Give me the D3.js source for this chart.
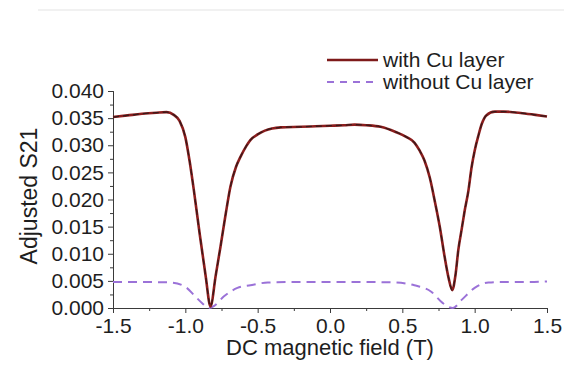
<!DOCTYPE html>
<html>
<head>
<meta charset="utf-8">
<script src="https://cdn.jsdelivr.net/npm/d3@7/dist/d3.min.js"></script>
<style>
  html, body { margin: 0; padding: 0; background: #fff; }
  svg { display: block; font-family: "Liberation Sans", Arial, sans-serif; }
</style>
</head>
<body>
<svg id="chart" width="564" height="367"></svg>
<script>
// Transmission S21 versus applied DC field
const fieldCu = [-1.5, -1.4, -1.3, -1.2, -1.13, -1.08, -1.04, -1.0, -0.97, -0.94, -0.9, -0.86, -0.826,
  -0.79, -0.757, -0.72, -0.688, -0.65, -0.618, -0.58, -0.549, -0.5, -0.45, -0.4, -0.34, -0.2, -0.1,
  0.0, 0.1, 0.17, 0.25, 0.35, 0.45, 0.53, 0.583, 0.62, 0.653, 0.69, 0.722, 0.76, 0.792, 0.82, 0.845,
  0.867, 0.887, 0.91, 0.93, 0.956, 0.979, 1.0, 1.026, 1.05, 1.08, 1.14, 1.2, 1.33, 1.42, 1.5];
const s21Cu = [0.0352, 0.0355, 0.0358, 0.0360, 0.0361, 0.0356, 0.0345, 0.0315, 0.0270, 0.0215, 0.0135, 0.0060, 0.0003,
  0.0060, 0.0113, 0.0175, 0.0224, 0.0260, 0.0279, 0.0298, 0.0310, 0.0320, 0.0327, 0.0331, 0.0333, 0.0334, 0.0335,
  0.0336, 0.0337, 0.0338, 0.0337, 0.0334, 0.0325, 0.0315, 0.0305, 0.0290, 0.0272, 0.0240, 0.0200, 0.0148, 0.0095, 0.0055, 0.0033,
  0.0060, 0.0107, 0.0145, 0.0178, 0.0215, 0.0260, 0.0290, 0.0318, 0.0340, 0.0355, 0.0362, 0.0362, 0.0359, 0.0356, 0.0353];

const fieldNoCu = [-1.5, -1.3, -1.1, -1.0, -0.93, -0.88, -0.84, -0.8, -0.735, -0.64, -0.55, -0.43, -0.2, 0.0,
  0.2, 0.45, 0.583, 0.7, 0.78, 0.85, 0.91, 1.0, 1.095, 1.2, 1.35, 1.5];
const s21NoCu = [0.0048, 0.0048, 0.0047, 0.0039, 0.0021, 0.0008, 0.0000, 0.0004, 0.0021, 0.0037, 0.0042, 0.0047, 0.0048, 0.0048,
  0.0048, 0.0047, 0.0042, 0.0030, 0.0009, 0.0000, 0.0015, 0.0037, 0.0047, 0.0048, 0.0048, 0.0049];

const xTicks = [-1.5, -1.0, -0.5, 0.0, 0.5, 1.0, 1.5];
const yTicks = [0.000, 0.005, 0.010, 0.015, 0.020, 0.025, 0.030, 0.035, 0.040];
const seriesNames = ["with Cu layer", "without Cu layer"];

const svg = d3.select("#chart");
const x = d3.scaleLinear().domain([-1.5, 1.5]).range([113, 547]);
const y = d3.scaleLinear().domain([0, 0.04]).range([308, 91]);

// faint frame line along the top
svg.append("line").attr("x1", 38).attr("x2", 564).attr("y1", 10).attr("y2", 10)
  .attr("stroke", "#ececec").attr("stroke-width", 1.5);

const axisColor = "#3a3a3a";
const textColor = "#1e1e1e";
const fmtX = d => d.toFixed(1);   // plain hyphen for negatives
const fmtY = d => d.toFixed(3);

// x axis: minor ticks at the quarter steps, labelled majors at the halves
const xMinor = d3.range(-1.25, 1.5, 0.5);
const gx = svg.append("g").attr("transform", `translate(0,${y(0)})`)
  .call(d3.axisBottom(x).tickValues(xMinor).tickSize(3).tickFormat(""));
const gx2 = svg.append("g").attr("transform", `translate(0,${y(0)})`)
  .call(d3.axisBottom(x).tickValues(xTicks).tickSize(5).tickPadding(4).tickFormat(fmtX));
gx2.selectAll(".tick text").attr("font-size", 21).attr("fill", textColor)
  .attr("font-family", "Liberation Sans, Arial, sans-serif")
  .attr("dy", null).attr("y", 25);
[gx, gx2].forEach(g => { g.select(".domain").attr("stroke", axisColor); g.selectAll(".tick line").attr("stroke", axisColor); });

// y axis
const yMinor = d3.range(0.0025, 0.04, 0.005);
const gy = svg.append("g").attr("transform", `translate(${x(-1.5)},0)`)
  .call(d3.axisLeft(y).tickValues(yMinor).tickSize(3).tickFormat(""));
const gy2 = svg.append("g").attr("transform", `translate(${x(-1.5)},0)`)
  .call(d3.axisLeft(y).tickValues(yTicks).tickSize(5).tickPadding(4).tickFormat(fmtY));
gy2.selectAll(".tick text").attr("font-size", 21).attr("fill", textColor)
  .attr("font-family", "Liberation Sans, Arial, sans-serif");
[gy, gy2].forEach(g => { g.select(".domain").attr("stroke", axisColor); g.selectAll(".tick line").attr("stroke", axisColor); });

// axis titles
svg.append("text").attr("x", (x(-1.5) + x(1.5)) / 2).attr("y", 355)
  .attr("text-anchor", "middle").attr("font-size", 22).attr("fill", textColor)
  .text("DC magnetic field (T)");
svg.append("text").attr("transform", `translate(37,196) rotate(-90)`)
  .attr("text-anchor", "middle").attr("font-size", 23).attr("fill", textColor)
  .text("Adjusted S21");

// curves
const lineCu = d3.line().x((d, i) => x(fieldCu[i])).y(d => y(d)).curve(d3.curveMonotoneX);
const lineNoCu = d3.line().x((d, i) => x(fieldNoCu[i])).y(d => y(d)).curve(d3.curveMonotoneX);

svg.append("path").attr("d", lineNoCu(s21NoCu)).attr("fill", "none")
  .attr("stroke", "#9b72d8").attr("stroke-width", 2).attr("stroke-dasharray", "9,6");

svg.append("path").attr("d", lineCu(s21Cu)).attr("fill", "none")
  .attr("stroke", "#8c1d1d").attr("stroke-width", 2.6);
svg.append("path").attr("d", lineCu(s21Cu)).attr("fill", "none")
  .attr("stroke", "#1a1a1a").attr("stroke-width", 1.3).attr("stroke-dasharray", "6,4").attr("opacity", 0.75);

// legend
const legend = svg.append("g");
const legendRows = [
  { name: seriesNames[0], color: "#7e1a1a", dash: null, width: 2.6 },
  { name: seriesNames[1], color: "#9b72d8", dash: "7,6", width: 2 }
];
legendRows.forEach((r, i) => {
  const yy = 60 + i * 22;
  legend.append("line").attr("x1", 327).attr("x2", 378).attr("y1", yy).attr("y2", yy)
    .attr("stroke", r.color).attr("stroke-width", r.width)
    .attr("stroke-dasharray", r.dash);
  legend.append("text").attr("x", 383).attr("y", yy + 7).attr("font-size", 21)
    .attr("fill", textColor).text(r.name);
});
</script>
</body>
</html>
